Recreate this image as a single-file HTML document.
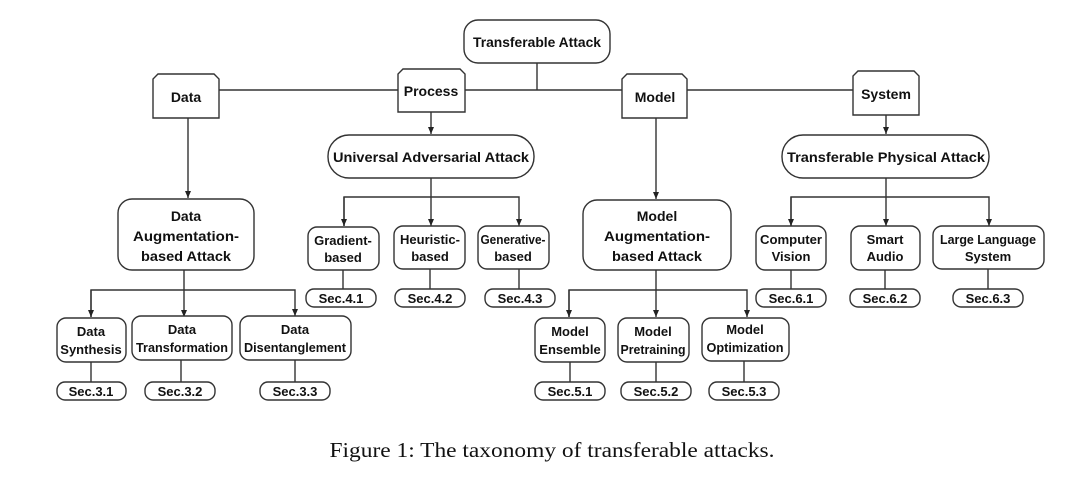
<!DOCTYPE html>
<html><head><meta charset="utf-8"><style>
html,body{margin:0;padding:0;background:#fff;}
svg{display:block;}
text{font-family:"Liberation Sans",sans-serif;font-weight:bold;font-size:13px;fill:#111;text-anchor:middle;}
.c{font-family:"Liberation Serif",serif;font-weight:normal;font-size:21px;}
</style></head><body>
<svg width="1080" height="481" viewBox="0 0 1080 481" xmlns="http://www.w3.org/2000/svg">
<defs><marker id="a" markerWidth="8" markerHeight="8" refX="7" refY="4" orient="auto" markerUnits="userSpaceOnUse"><path d="M0,1 L7,4 L0,7 Z" fill="#222"/></marker></defs>
<g fill="none" stroke="#333" stroke-width="1.4">
<line x1="537" y1="63" x2="537" y2="90"/>
<line x1="219" y1="90" x2="853" y2="90"/>
<line x1="188" y1="118" x2="188" y2="198" marker-end="url(#a)"/>
<line x1="431" y1="112" x2="431" y2="134" marker-end="url(#a)"/>
<line x1="656" y1="118" x2="656" y2="199" marker-end="url(#a)"/>
<line x1="886" y1="115" x2="886" y2="134" marker-end="url(#a)"/>
<line x1="431" y1="178" x2="431" y2="226" marker-end="url(#a)"/>
<polyline points="344,226 344,197 519,197 519,226" marker-end="url(#a)"/>
<line x1="344" y1="197" x2="344" y2="226" marker-end="url(#a)"/>
<line x1="343" y1="270" x2="343" y2="289"/>
<line x1="430" y1="269" x2="430" y2="289"/>
<line x1="519" y1="269" x2="519" y2="289"/>
<line x1="886" y1="178" x2="886" y2="226" marker-end="url(#a)"/>
<polyline points="791,226 791,197 989,197 989,226" marker-end="url(#a)"/>
<line x1="791" y1="197" x2="791" y2="226" marker-end="url(#a)"/>
<line x1="791" y1="270" x2="791" y2="289"/>
<line x1="885" y1="270" x2="885" y2="289"/>
<line x1="988" y1="269" x2="988" y2="289"/>
<line x1="184" y1="270" x2="184" y2="317" marker-end="url(#a)"/>
<polyline points="91,317 91,290 295,290 295,316" marker-end="url(#a)"/>
<line x1="91" y1="290" x2="91" y2="317" marker-end="url(#a)"/>
<line x1="91" y1="362" x2="91" y2="382"/>
<line x1="181" y1="360" x2="181" y2="382"/>
<line x1="295" y1="360" x2="295" y2="382"/>
<line x1="656" y1="270" x2="656" y2="317" marker-end="url(#a)"/>
<polyline points="569,317 569,290 747,290 747,317" marker-end="url(#a)"/>
<line x1="569" y1="290" x2="569" y2="317" marker-end="url(#a)"/>
<line x1="570" y1="362" x2="570" y2="382"/>
<line x1="656" y1="362" x2="656" y2="382"/>
<line x1="744" y1="361" x2="744" y2="382"/>
</g>
<g fill="#fff" stroke="#333" stroke-width="1.4">
<rect x="464" y="20" width="146" height="43" rx="14"/>
<polygon points="158,74 214,74 219,79 219,118 153,118 153,79"/>
<polygon points="403,69 460,69 465,74 465,112 398,112 398,74"/>
<polygon points="627,74 682,74 687,79 687,118 622,118 622,79"/>
<polygon points="858,71 914,71 919,76 919,115 853,115 853,76"/>
<rect x="328" y="135" width="206" height="43" rx="21"/>
<rect x="782" y="135" width="207" height="43" rx="21"/>
<rect x="118" y="199" width="136" height="71" rx="14"/>
<rect x="583" y="200" width="148" height="70" rx="14"/>
<rect x="308" y="227" width="71" height="43" rx="9"/>
<rect x="394" y="226" width="71" height="43" rx="9"/>
<rect x="478" y="226" width="71" height="43" rx="9"/>
<rect x="756" y="226" width="70" height="44" rx="9"/>
<rect x="851" y="226" width="69" height="44" rx="9"/>
<rect x="933" y="226" width="111" height="43" rx="9"/>
<rect x="57" y="318" width="69" height="44" rx="9"/>
<rect x="132" y="316" width="100" height="44" rx="9"/>
<rect x="240" y="316" width="111" height="44" rx="9"/>
<rect x="535" y="318" width="70" height="44" rx="9"/>
<rect x="618" y="318" width="71" height="44" rx="9"/>
<rect x="702" y="318" width="87" height="43" rx="9"/>
<rect x="306" y="289" width="70" height="18" rx="8"/>
<rect x="395" y="289" width="70" height="18" rx="8"/>
<rect x="485" y="289" width="70" height="18" rx="8"/>
<rect x="756" y="289" width="70" height="18" rx="8"/>
<rect x="850" y="289" width="70" height="18" rx="8"/>
<rect x="953" y="289" width="70" height="18" rx="8"/>
<rect x="57" y="382" width="69" height="18" rx="8"/>
<rect x="145" y="382" width="70" height="18" rx="8"/>
<rect x="260" y="382" width="70" height="18" rx="8"/>
<rect x="535" y="382" width="70" height="18" rx="8"/>
<rect x="621" y="382" width="70" height="18" rx="8"/>
<rect x="709" y="382" width="70" height="18" rx="8"/>
</g>
<g>
<text x="537" y="47" style="font-size:14px" textLength="128" lengthAdjust="spacingAndGlyphs">Transferable Attack</text>
<text x="186" y="102" style="font-size:14px">Data</text>
<text x="431" y="96" style="font-size:14px">Process</text>
<text x="655" y="102" style="font-size:14px">Model</text>
<text x="886" y="99" style="font-size:14px">System</text>
<text x="431" y="162" style="font-size:14px" textLength="196" lengthAdjust="spacingAndGlyphs">Universal Adversarial Attack</text>
<text x="886" y="162" style="font-size:14px" textLength="198" lengthAdjust="spacingAndGlyphs">Transferable Physical Attack</text>
<text x="186" y="221" style="font-size:14px">Data</text>
<text x="186" y="241" style="font-size:14px" textLength="106" lengthAdjust="spacingAndGlyphs">Augmentation-</text>
<text x="186" y="261" style="font-size:14px" textLength="90" lengthAdjust="spacingAndGlyphs">based Attack</text>
<text x="657" y="221" style="font-size:14px">Model</text>
<text x="657" y="241" style="font-size:14px" textLength="106" lengthAdjust="spacingAndGlyphs">Augmentation-</text>
<text x="657" y="261" style="font-size:14px" textLength="90" lengthAdjust="spacingAndGlyphs">based Attack</text>
<text x="343" y="245">Gradient-</text><text x="343" y="262">based</text>
<text x="430" y="244">Heuristic-</text><text x="430" y="261">based</text>
<text x="513" y="244" textLength="65" lengthAdjust="spacingAndGlyphs">Generative-</text><text x="513" y="261">based</text>
<text x="791" y="244" textLength="62" lengthAdjust="spacingAndGlyphs">Computer</text><text x="791" y="261">Vision</text>
<text x="885" y="244">Smart</text><text x="885" y="261">Audio</text>
<text x="988" y="244" textLength="96" lengthAdjust="spacingAndGlyphs">Large Language</text><text x="988" y="261">System</text>
<text x="91" y="336">Data</text><text x="91" y="354">Synthesis</text>
<text x="182" y="334">Data</text><text x="182" y="352" textLength="92" lengthAdjust="spacingAndGlyphs">Transformation</text>
<text x="295" y="334">Data</text><text x="295" y="352" textLength="102" lengthAdjust="spacingAndGlyphs">Disentanglement</text>
<text x="570" y="336">Model</text><text x="570" y="354">Ensemble</text>
<text x="653" y="336">Model</text><text x="653" y="354" textLength="65" lengthAdjust="spacingAndGlyphs">Pretraining</text>
<text x="745" y="334">Model</text><text x="745" y="352" textLength="77" lengthAdjust="spacingAndGlyphs">Optimization</text>
<text x="341" y="303">Sec.4.1</text><text x="430" y="303">Sec.4.2</text><text x="520" y="303">Sec.4.3</text>
<text x="791" y="303">Sec.6.1</text><text x="885" y="303">Sec.6.2</text><text x="988" y="303">Sec.6.3</text>
<text x="91" y="396">Sec.3.1</text><text x="180" y="396">Sec.3.2</text><text x="295" y="396">Sec.3.3</text>
<text x="570" y="396">Sec.5.1</text><text x="656" y="396">Sec.5.2</text><text x="744" y="396">Sec.5.3</text>
<text class="c" x="552" y="457" textLength="445" lengthAdjust="spacingAndGlyphs">Figure 1: The taxonomy of transferable attacks.</text>
</g>
</svg>
</body></html>
